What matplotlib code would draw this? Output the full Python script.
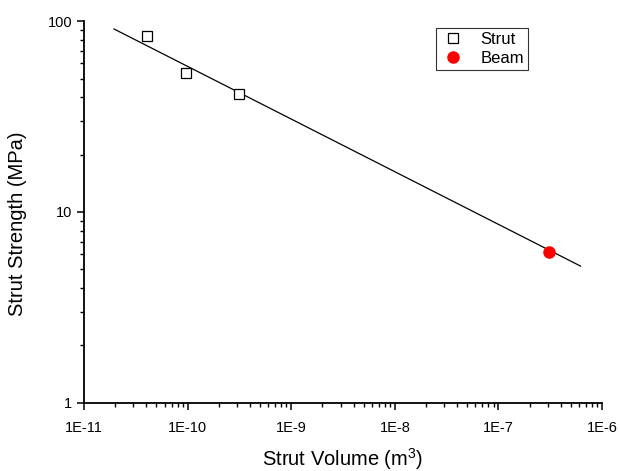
import numpy as np
import matplotlib.pyplot as plt
from matplotlib.ticker import LogLocator, FixedLocator

plt.rcParams['font.family'] = ['Liberation Sans', 'DejaVu Sans']

# Strut data
strut_vol = [4.06e-11, 9.7e-11, 3.15e-10]
strut_str = [83.0, 53.4, 41.5]

# Beam data
beam_vol = [3.11e-7]
beam_str = [6.18]

# power-law fit line end points
fit_vol = [1.95e-11, 6.2e-7]
fit_str = [90.8, 5.21]

xticks = [1e-11, 1e-10, 1e-9, 1e-8, 1e-7, 1e-6]
xtick_labels = ['1E-11', '1E-10', '1E-9', '1E-8', '1E-7', '1E-6']
yticks = [1, 10, 100]
ytick_labels = ['1', '10', '100']

fig = plt.figure(figsize=(6.2, 4.71), dpi=100)
ax = fig.add_axes([0.1355, 0.1444, 0.8355, 0.811])

ax.plot(fit_vol, fit_str, 'k-', lw=0.9)
ax.plot(strut_vol, strut_str, 's', mfc='white', mec='black', mew=0.9, ms=7,
        linestyle='none', label='Strut')
ax.plot(beam_vol, beam_str, 'o', color='red', ms=8, linestyle='none', label='Beam')

ax.set_xscale('log')
ax.set_yscale('log')
ax.set_xlim(1e-11, 1e-6)
ax.set_ylim(1, 100)

ax.xaxis.set_major_locator(FixedLocator(xticks))
ax.set_xticklabels(xtick_labels)
ax.yaxis.set_major_locator(FixedLocator(yticks))
ax.set_yticklabels(ytick_labels)
ax.xaxis.set_minor_locator(LogLocator(base=10, subs=np.arange(2, 10)))
ax.yaxis.set_minor_locator(LogLocator(base=10, subs=np.arange(2, 10)))
ax.xaxis.set_minor_formatter(plt.NullFormatter())
ax.yaxis.set_minor_formatter(plt.NullFormatter())

ax.spines['top'].set_visible(False)
ax.spines['right'].set_visible(False)
ax.spines['left'].set_linewidth(1.3)
ax.spines['bottom'].set_linewidth(1.3)
ax.tick_params(which='major', length=5, width=1.1, labelsize=10.5, direction='out')
ax.tick_params(axis='x', which='major', pad=8)
ax.tick_params(which='minor', length=3, width=1.0, direction='out')

ax.set_xlabel(r'Strut Volume (m$\mathregular{^3}$)', fontsize=14.5)
ax.set_ylabel('Strut Strength (MPa)', fontsize=14.5)
ax.xaxis.set_label_coords(0.5, -0.113)
ax.yaxis.set_label_coords(-0.110, 0.469)

leg = ax.legend(loc='upper left', bbox_to_anchor=(0.6795, 0.982), fontsize=12,
                frameon=True, fancybox=False, edgecolor='black',
                handlelength=1.6, handletextpad=0.8, borderpad=0.25,
                labelspacing=0.25, borderaxespad=0)
leg.get_frame().set_linewidth(0.8)

fig.savefig('out.png', dpi=100)
